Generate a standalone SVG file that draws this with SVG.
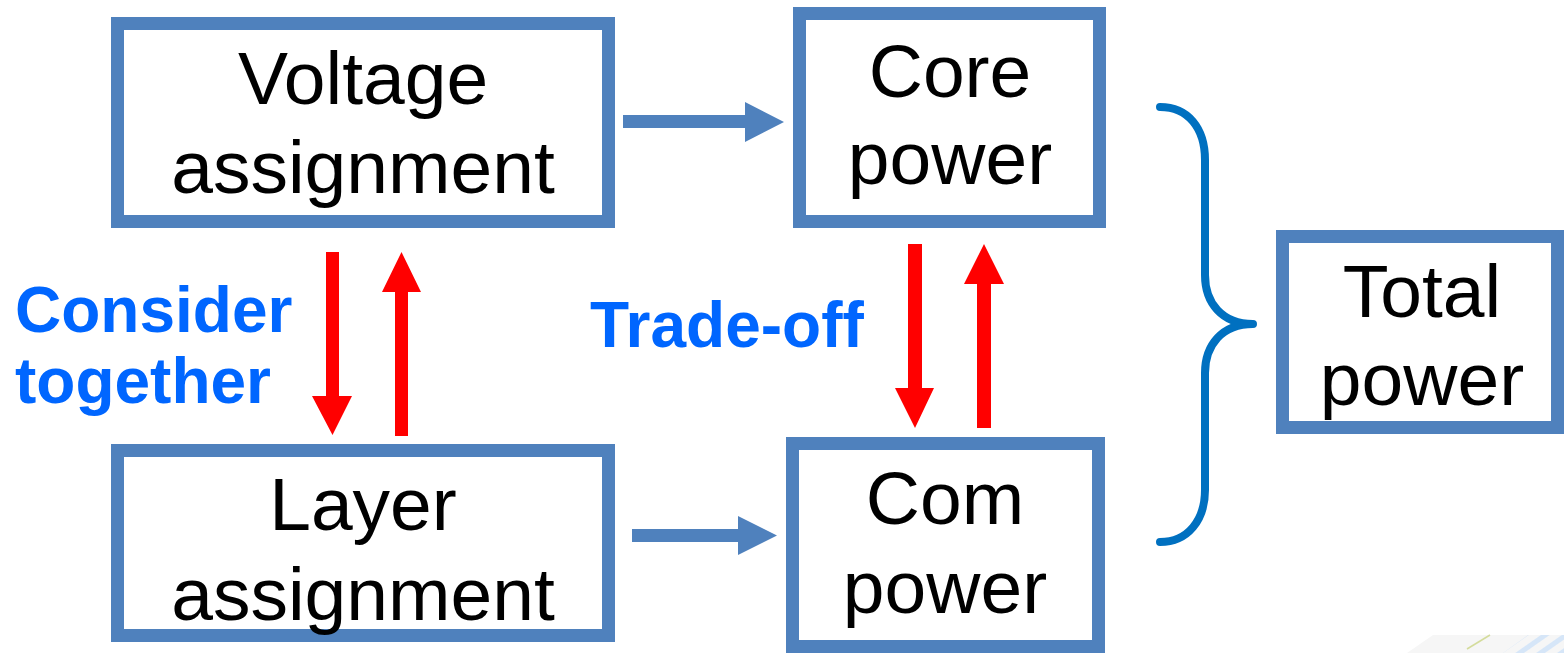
<svg xmlns="http://www.w3.org/2000/svg" width="1564" height="653" viewBox="0 0 1564 653">
  <style>
    .box { fill: #FFFFFF; stroke: #4F81BD; stroke-width: 13; }
    .label { font-family: "Liberation Sans", Arial, sans-serif; font-size: 75px; fill: #000000; text-anchor: middle; }
    .note { font-family: "Liberation Sans", Arial, sans-serif; font-size: 64px; font-weight: bold; fill: #0066FF; }
    .flow { fill: #4F81BD; }
    .loop { fill: #FF0000; }
    .brace { fill: none; stroke: #0070C0; stroke-width: 8; stroke-linecap: round; stroke-linejoin: round; }
  </style>
  <defs>
    <pattern id="stripes" width="12" height="12" patternUnits="userSpaceOnUse" patternTransform="rotate(-35)">
      <rect width="12" height="5" fill="#D6E6F8"/>
    </pattern>
  </defs>

  <rect width="1564" height="653" fill="#FFFFFF"/>

  <!-- faint slide ornament, bottom right -->
  <g id="ornament">
    <polygon points="1407,653 1433,635 1564,635 1564,653" fill="#F6F6F6"/>
    <polygon points="1503,653 1528,635 1564,635 1564,653" fill="url(#stripes)"/>
    <line x1="1467" y1="649" x2="1490" y2="635" stroke="#D4DC9C" stroke-width="1.5"/>
  </g>

  <g id="connectors">
    <!-- Voltage assignment -> Core power -->
    <polygon class="flow" points="623,115 745,115 745,102 784,122 745,142 745,128 623,128"/>
    <!-- Layer assignment -> Com power -->
    <polygon class="flow" points="632,529 738,529 738,516 777,535.5 738,555 738,542 632,542"/>
    <!-- consider together: down / up -->
    <polygon class="loop" points="326,252 339,252 339,396 352,396 332.5,435 312,396 326,396"/>
    <polygon class="loop" points="395,436 408,436 408,292 421,292 401.5,252 382,292 395,292"/>
    <!-- trade-off: down / up -->
    <polygon class="loop" points="908,244 922,244 922,388 934,388 915,428 895,388 908,388"/>
    <polygon class="loop" points="977,428 991,428 991,284 1004,284 984,244 964,284 977,284"/>
    <!-- brace gathering core and com power -->
    <path class="brace" d="M1160,107 C1188,107 1205,128 1205,160 L1205,275 C1205,303 1222,324 1253,324 C1222,324 1205,345 1205,373 L1205,490 C1205,520 1188,542 1160,542"/>
  </g>

  <g id="voltage-assignment">
    <rect class="box" x="117.5" y="23.5" width="491" height="198"/>
    <text class="label" x="363" y="104">Voltage</text>
    <text class="label" x="363" y="193">assignment</text>
  </g>

  <g id="core-power">
    <rect class="box" x="799.5" y="13.5" width="300" height="208"/>
    <text class="label" x="950" y="97">Core</text>
    <text class="label" x="950" y="184">power</text>
  </g>

  <g id="layer-assignment">
    <rect class="box" x="117.5" y="450.5" width="491" height="185"/>
    <text class="label" x="363" y="530">Layer</text>
    <text class="label" x="363" y="620">assignment</text>
  </g>

  <g id="com-power">
    <rect class="box" x="792.5" y="443.5" width="306" height="203"/>
    <text class="label" x="945" y="524">Com</text>
    <text class="label" x="945" y="613">power</text>
  </g>

  <g id="total-power">
    <rect class="box" x="1282.5" y="236.5" width="275" height="191"/>
    <text class="label" x="1422" y="317">Total</text>
    <text class="label" x="1422" y="405">power</text>
  </g>

  <g id="notes">
    <text class="note" x="15" y="332">Consider</text>
    <text class="note" x="15" y="403">together</text>
    <text class="note" x="590" y="347">Trade-off</text>
  </g>
</svg>
